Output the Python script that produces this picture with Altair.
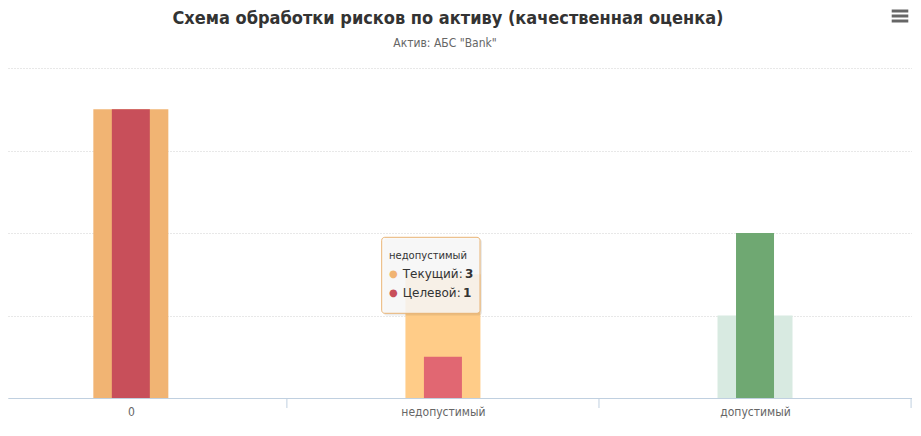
import altair as alt
import pandas as pd

categories = ["0", "недопустимый", "допустимый"]
current_values = [7, 3, 2]
target_values = [7, 1, 4]
current_colors = ["#F1B473", "#FFCC88", "#D8EAE1"]
target_colors = ["#C84F5A", "#E16772", "#6FA872"]
boundaries = [0.5, 1.5, 2.5]

TITLE = "Схема обработки рисков по активу (качественная оценка)"
SUBTITLE = 'Актив: АБС "Bank"'

COND = "DejaVu Sans Condensed, Liberation Sans Narrow, DejaVu Sans, sans-serif"
TIPFONT = "DejaVu Sans, Verdana, sans-serif"

df = pd.DataFrame({
    "idx": list(range(len(categories))),
    "cat": categories,
    "current": current_values,
    "target": target_values,
    "ccol": current_colors,
    "tcol": target_colors,
})
bdf = pd.DataFrame({"b": boundaries})

xscale = alt.Scale(domain=[-0.3936, 2.503], nice=False, zero=False, padding=0)
yscale = alt.Scale(domain=[0, 8], nice=False, padding=0)

label_expr = "datum.value == 0 ? '0' : datum.value == 1 ? 'недопустимый' : 'допустимый'"

xaxis = alt.Axis(values=[0, 1, 2], labelExpr=label_expr, ticks=False, grid=False,
                 domainColor="#C0D0E0", domainWidth=1, labelColor="#666666",
                 labelFontSize=12, labelFont=COND, labelPadding=8, title=None)
yaxis = alt.Axis(values=[0, 2, 4, 6, 8], labels=False, ticks=False, domain=False,
                 grid=True, gridColor="#D0D0D0", gridDash=[1, 2], gridWidth=1, title=None)

wide = alt.Chart(df).mark_bar(size=75).encode(
    x=alt.X("idx:Q", scale=xscale, axis=xaxis),
    y=alt.Y("current:Q", scale=yscale, axis=yaxis),
    color=alt.Color("ccol:N", scale=None),
)
narrow = alt.Chart(df).mark_bar(size=38).encode(
    x=alt.X("idx:Q", scale=xscale),
    y=alt.Y("target:Q", scale=yscale),
    color=alt.Color("tcol:N", scale=None),
)
ticks = alt.Chart(bdf).mark_rule(color="#C0D0E0", strokeWidth=1).encode(
    x=alt.X("b:Q", scale=xscale),
    y=alt.value(330), y2=alt.value(340),
)

one = pd.DataFrame({"k": [0]})

title_mark = alt.Chart(one).mark_text(text=TITLE, align="center", baseline="middle",
                                      fontSize=18, font=COND, fontWeight="bold",
                                      color="#333333").encode(
    x=alt.value(440), y=alt.value(-49))
subtitle_mark = alt.Chart(one).mark_text(text=SUBTITLE, align="center", baseline="middle",
                                         fontSize=12, font=COND, color="#666666").encode(
    x=alt.value(437), y=alt.value(-25))

# tooltip (hover state of the middle category)
shadow = alt.Chart(one).mark_rect(fill="#000000", opacity=0.08, cornerRadius=3).encode(
    x=alt.value(375.5), x2=alt.value(474), y=alt.value(171), y2=alt.value(247.5))
box = alt.Chart(one).mark_rect(fill="#F9F9F9", fillOpacity=0.85, stroke="#E9B373",
                               strokeWidth=1, cornerRadius=3).encode(
    x=alt.value(373.7), x2=alt.value(472), y=alt.value(169.3), y2=alt.value(245.3))
tt_title = alt.Chart(one).mark_text(text="недопустимый", align="left", baseline="middle",
                                    fontSize=10, font=TIPFONT, color="#333333").encode(
    x=alt.value(381), y=alt.value(188))
dot1 = alt.Chart(one).mark_text(text="●", align="center", baseline="middle",
                                fontSize=10, font=TIPFONT, color="#F1B473").encode(
    x=alt.value(385.3), y=alt.value(206.3))
lab1 = alt.Chart(one).mark_text(text="Текущий:", align="left", baseline="middle",
                                fontSize=12, font=TIPFONT, color="#333333").encode(
    x=alt.value(394.7), y=alt.value(206.3))
val1 = alt.Chart(one).mark_text(text="3", align="left", baseline="middle",
                                fontSize=12, font=TIPFONT, fontWeight="bold",
                                color="#333333").encode(
    x=alt.value(457), y=alt.value(206.3))
dot2 = alt.Chart(one).mark_text(text="●", align="center", baseline="middle",
                                fontSize=10, font=TIPFONT, color="#C84F5A").encode(
    x=alt.value(385.3), y=alt.value(225.3))
lab2 = alt.Chart(one).mark_text(text="Целевой:", align="left", baseline="middle",
                                fontSize=12, font=TIPFONT, color="#333333").encode(
    x=alt.value(394.7), y=alt.value(225.3))
val2 = alt.Chart(one).mark_text(text="1", align="left", baseline="middle",
                                fontSize=12, font=TIPFONT, fontWeight="bold",
                                color="#333333").encode(
    x=alt.value(455), y=alt.value(225.3))

# menu icon
menu_layers = [
    alt.Chart(one).mark_rule(color="#666666", strokeWidth=3).encode(
        x=alt.value(883.7), x2=alt.value(900.3), y=alt.value(yy))
    for yy in (-57, -52, -47)
]

chart = alt.layer(wide, narrow, ticks, title_mark, subtitle_mark, shadow, box, tt_title,
                  dot1, lab1, val1, dot2, lab2, val2, *menu_layers).properties(
    width=904, height=330,
    padding={"left": 0, "right": 0, "top": 60, "bottom": 38},
    autosize=alt.AutoSizeParams(type="none"),
).configure_view(stroke=None)

chart.save("out.html", embed_options={"renderer": "svg", "actions": False})
